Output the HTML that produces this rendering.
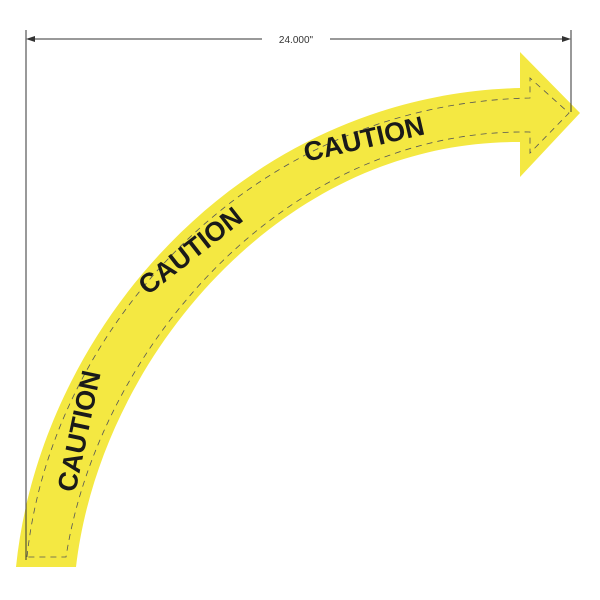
<!DOCTYPE html>
<html><head><style>body{margin:0;background:#fff}svg{display:block}</style></head><body>
<svg width="600" height="600" viewBox="0 0 600 600" xmlns="http://www.w3.org/2000/svg">
<path d="M16,567 C40,330 240,95 520,88 L520,52 L580,113 L520,177 L520,142 C280,140 100,360 76,567 Z" fill="#f4e842"/>
<path d="M27,557 C50,335 245,104 530,98 L530,78 L569,113 L530,153 L530,132 C285,128 98,350 66,557 Z" fill="none" stroke="#555" stroke-width="0.8" stroke-dasharray="6,5"/>
<line x1="26" y1="30" x2="26" y2="560" stroke="#333" stroke-width="1"/>
<line x1="571" y1="30" x2="571" y2="112" stroke="#333" stroke-width="1"/>
<line x1="28" y1="39" x2="262" y2="39" stroke="#333" stroke-width="1"/>
<line x1="330" y1="39" x2="569" y2="39" stroke="#333" stroke-width="1"/>
<polygon points="26,39 35,36 35,42" fill="#333"/>
<polygon points="571,39 562,36 562,42" fill="#333"/>
<text x="296" y="43" font-family="Liberation Sans, sans-serif" font-size="10" fill="#333" text-anchor="middle">24.000"</text>
<g font-family="Liberation Sans, sans-serif" font-weight="bold" font-size="27" fill="#1a1a1a" text-anchor="middle">
<text transform="translate(88,433) rotate(-78)">CAUTION</text>
<text transform="translate(196,258) rotate(-38)">CAUTION</text>
<text transform="translate(366,148) rotate(-13)">CAUTION</text>
</g>
</svg>
</body></html>
